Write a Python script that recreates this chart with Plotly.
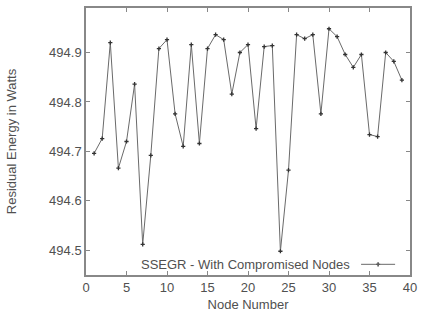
import plotly.graph_objects as go

node = list(range(1, 40))
energy = [494.696, 494.726, 494.920, 494.666, 494.720, 494.836, 494.512, 494.692,
          494.908, 494.926, 494.776, 494.710, 494.916, 494.716, 494.908, 494.936,
          494.926, 494.816, 494.900, 494.916, 494.746, 494.912, 494.914, 494.498,
          494.662, 494.936, 494.928, 494.936, 494.776, 494.948, 494.932, 494.896,
          494.870, 494.896, 494.734, 494.730, 494.900, 494.882, 494.844]
x_ticks = [0, 5, 10, 15, 20, 25, 30, 35, 40]
y_ticks = [494.5, 494.6, 494.7, 494.8, 494.9]
series_name = "SSEGR - With Compromised Nodes"

font = dict(family="Liberation Sans, Arial, sans-serif", size=13, color="#505050")
line_col = "#6a6a6a"
mark_col = "#333"

fig = go.Figure()
fig.add_trace(go.Scatter(
    x=node, y=energy, mode="lines+markers", name=series_name,
    line=dict(color=line_col, width=1),
    marker=dict(symbol="cross-thin", size=3, line=dict(color=mark_col, width=1.3)),
    showlegend=False,
))

# legend drawn gnuplot-style (text left, sample right)
fig.add_annotation(xref="paper", yref="paper", x=0.822, y=0.04, xanchor="right", yanchor="middle",
                   text=series_name, showarrow=False, font=font)
fig.add_shape(type="line", xref="paper", yref="paper", x0=0.849, x1=0.954, y0=0.04, y1=0.04,
              line=dict(color=line_col, width=1))
fig.add_trace(go.Scatter(
    x=[0.9015], y=[0.04], xaxis="x2", yaxis="y2", mode="markers", showlegend=False,
    marker=dict(symbol="cross-thin", size=3, line=dict(color=mark_col, width=1.3)),
    hoverinfo="skip",
))

axis_common = dict(showgrid=False, zeroline=False, showline=True, linecolor="#888", linewidth=1.5,
                   mirror="ticks", ticks="inside", ticklen=4, tickcolor="#888", tickwidth=1,
                   tickfont=font)
fig.update_layout(
    width=423, height=323,
    margin=dict(l=86, r=8, t=6, b=48),
    paper_bgcolor="white", plot_bgcolor="white",
    font=font,
    xaxis=dict(range=[0, 40], tickvals=x_ticks, ticktext=[str(v) for v in x_ticks],
               title=dict(text="Node Number", font=font, standoff=6), **axis_common),
    yaxis=dict(range=[494.45, 494.99], tickvals=y_ticks, ticktext=[f"{v:.1f}" for v in y_ticks],
               title=dict(text="Residual Energy in Watts", font=font, standoff=30), **axis_common),
    xaxis2=dict(range=[0, 1], overlaying="x", visible=False, fixedrange=True),
    yaxis2=dict(range=[0, 1], overlaying="y", visible=False, fixedrange=True),
    showlegend=False,
)
fig.write_html("out.html", config={"displayModeBar": False},
               post_script="document.body.style.margin='0';")
